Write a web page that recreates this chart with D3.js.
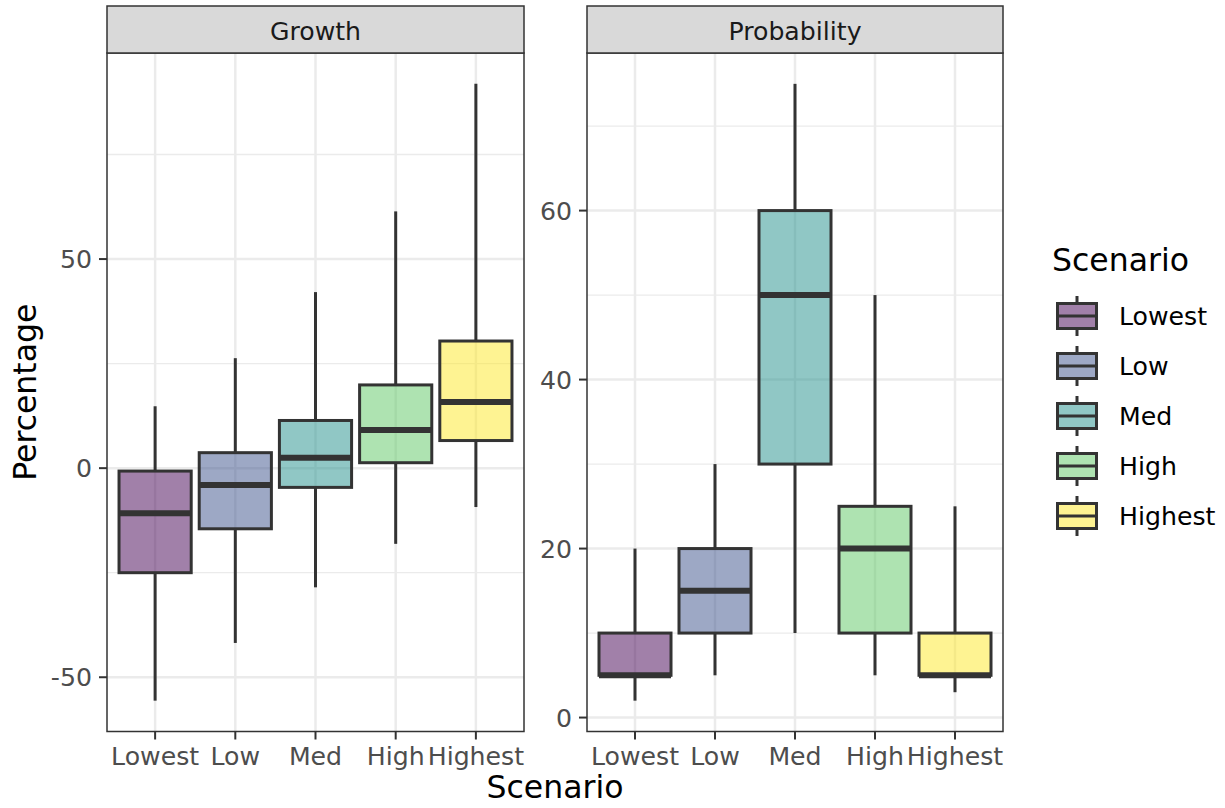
<!DOCTYPE html>
<html>
<head>
<meta charset="utf-8">
<script src="https://cdn.jsdelivr.net/npm/d3@7"></script>
<style>
  body { margin: 0; background: #fff; }
  svg { display: block; font-family: "DejaVu Sans", sans-serif; }
</style>
</head>
<body>
<svg id="chart" width="1225" height="808"></svg>
<script>
// ── DATA ─────────────────────────────────────────────
const scenarios = ["Lowest", "Low", "Med", "High", "Highest"];
const colors    = ["#440154", "#3B528B", "#21908C", "#5DC863", "#FDE725"];

// Growth facet (box stats)
const growthMin = [-55.6, -41.8, -28.5, -18.1, -9.3];
const growthQ1  = [-25.0, -14.5,  -4.6,   1.3,   6.6];
const growthMed = [-10.8,  -4.0,   2.5,   9.1,  15.8];
const growthQ3  = [ -0.7,   3.7,  11.4,  19.9,  30.4];
const growthMax = [ 14.8,  26.3,  42.1,  61.4,  91.9];

// Probability facet
const probMin = [ 2,  5, 10,  5,  3];
const probQ1  = [ 5, 10, 30, 10,  5];
const probMed = [ 5, 15, 50, 20,  5];
const probQ3  = [10, 20, 60, 25, 10];
const probMax = [20, 30, 75, 50, 25];

// tick labels
const growthTicks = [-50, 0, 50];
const growthMinor = [-25, 25, 75];
const probTicks   = [0, 20, 40, 60];
const probMinor   = [10, 30, 50, 70];

const facets = [
  { name: "Growth",      x0: 107, x1: 524,  min: growthMin, q1: growthQ1, med: growthMed, q3: growthQ3, max: growthMax, ticks: growthTicks, minor: growthMinor },
  { name: "Probability", x0: 587, x1: 1003, min: probMin,   q1: probQ1,   med: probMed,   q3: probQ3,   max: probMax,   ticks: probTicks,   minor: probMinor }
];

// ── LAYOUT ───────────────────────────────────────────
const stripTop = 6, panelTop = 53, panelBottom = 731.5;
const dark = "#333333";
const tickFont = 25.2, titleFont = 31.5;

const svg = d3.select("#chart");

facets.forEach(f => {
  const boxes = scenarios.map((s, i) => ({
    s, i, min: f.min[i], q1: f.q1[i], med: f.med[i], q3: f.q3[i], max: f.max[i], color: colors[i]
  }));

  // y scale with ggplot-style 5% expansion
  const lo = d3.min(f.min), hi = d3.max(f.max);
  const pad = (hi - lo) * 0.05;
  const y = d3.scaleLinear().domain([lo - pad, hi + pad]).range([panelBottom, panelTop]);

  const x = d3.scaleBand().domain(scenarios).range([f.x0, f.x1])
    .paddingInner(0).paddingOuter(0.1);
  const cx = d => x(d.s) + x.bandwidth() / 2;
  const bw = x.bandwidth() * 0.9;

  const g = svg.append("g");

  // panel background
  g.append("rect")
    .attr("x", f.x0).attr("y", panelTop)
    .attr("width", f.x1 - f.x0).attr("height", panelBottom - panelTop)
    .attr("fill", "#fff");

  // minor grid
  g.selectAll(".minor")
    .data(f.minor.filter(v => y(v) > panelTop && y(v) < panelBottom))
    .join("line")
      .attr("x1", f.x0).attr("x2", f.x1)
      .attr("y1", d => y(d)).attr("y2", d => y(d))
      .attr("stroke", "#ebebeb").attr("stroke-width", 1.3);

  // major grid (horizontal)
  g.selectAll(".major")
    .data(f.ticks)
    .join("line")
      .attr("x1", f.x0).attr("x2", f.x1)
      .attr("y1", d => y(d)).attr("y2", d => y(d))
      .attr("stroke", "#ebebeb").attr("stroke-width", 2.5);

  // major grid (vertical)
  g.selectAll(".vgrid")
    .data(boxes)
    .join("line")
      .attr("x1", cx).attr("x2", cx)
      .attr("y1", panelTop).attr("y2", panelBottom)
      .attr("stroke", "#ebebeb").attr("stroke-width", 2.5);

  // whiskers
  g.selectAll(".whiskerUp")
    .data(boxes)
    .join("line")
      .attr("x1", cx).attr("x2", cx)
      .attr("y1", d => y(d.q3)).attr("y2", d => y(d.max))
      .attr("stroke", dark).attr("stroke-width", 3);

  g.selectAll(".whiskerDown")
    .data(boxes)
    .join("line")
      .attr("x1", cx).attr("x2", cx)
      .attr("y1", d => y(d.q1)).attr("y2", d => y(d.min))
      .attr("stroke", dark).attr("stroke-width", 3);

  // boxes
  g.selectAll(".box")
    .data(boxes)
    .join("rect")
      .attr("x", d => cx(d) - bw / 2)
      .attr("y", d => y(d.q3))
      .attr("width", bw)
      .attr("height", d => y(d.q1) - y(d.q3))
      .attr("fill", d => d.color).attr("fill-opacity", 0.5)
      .attr("stroke", dark).attr("stroke-width", 3);

  // medians
  g.selectAll(".median")
    .data(boxes)
    .join("line")
      .attr("x1", d => cx(d) - bw / 2).attr("x2", d => cx(d) + bw / 2)
      .attr("y1", d => y(d.med)).attr("y2", d => y(d.med))
      .attr("stroke", dark).attr("stroke-width", 6);

  // panel border
  g.append("rect")
    .attr("x", f.x0).attr("y", panelTop)
    .attr("width", f.x1 - f.x0).attr("height", panelBottom - panelTop)
    .attr("fill", "none").attr("stroke", dark).attr("stroke-width", 1.5);

  // strip
  g.append("rect")
    .attr("x", f.x0).attr("y", stripTop)
    .attr("width", f.x1 - f.x0).attr("height", panelTop - stripTop)
    .attr("fill", "#d9d9d9").attr("stroke", dark).attr("stroke-width", 1.5);

  g.append("text")
    .attr("x", (f.x0 + f.x1) / 2).attr("y", (stripTop + panelTop) / 2 + 1)
    .attr("dy", "0.36em")
    .attr("text-anchor", "middle")
    .attr("font-size", tickFont).attr("fill", "#1a1a1a")
    .text(f.name);

  // y axis
  const yAxis = g.append("g");
  yAxis.selectAll("line")
    .data(f.ticks)
    .join("line")
      .attr("x1", f.x0 - 8).attr("x2", f.x0)
      .attr("y1", d => y(d)).attr("y2", d => y(d))
      .attr("stroke", dark).attr("stroke-width", 2);
  yAxis.selectAll("text")
    .data(f.ticks)
    .join("text")
      .attr("x", f.x0 - 15).attr("y", d => y(d))
      .attr("dy", "0.36em")
      .attr("text-anchor", "end")
      .attr("font-size", tickFont).attr("fill", "#4d4d4d")
      .text(d => d);

  // x axis
  const xAxis = g.append("g");
  xAxis.selectAll("line")
    .data(boxes)
    .join("line")
      .attr("x1", cx).attr("x2", cx)
      .attr("y1", panelBottom).attr("y2", panelBottom + 8)
      .attr("stroke", dark).attr("stroke-width", 2);
  xAxis.selectAll("text")
    .data(boxes)
    .join("text")
      .attr("x", cx).attr("y", 765)
      .attr("text-anchor", "middle")
      .attr("font-size", tickFont).attr("fill", "#4d4d4d")
      .text(d => d.s);
});

// ── AXIS TITLES ──────────────────────────────────────
svg.append("text")
  .attr("x", 555).attr("y", 798)
  .attr("text-anchor", "middle")
  .attr("font-size", titleFont).attr("fill", "#000")
  .text("Scenario");

svg.append("text")
  .attr("transform", `translate(36, ${(panelTop + panelBottom) / 2}) rotate(-90)`)
  .attr("text-anchor", "middle")
  .attr("font-size", titleFont).attr("fill", "#000")
  .text("Percentage");

// ── LEGEND ───────────────────────────────────────────
const legend = svg.append("g");
legend.append("text")
  .attr("x", 1052).attr("y", 271)
  .attr("font-size", titleFont).attr("fill", "#000")
  .text("Scenario");

const keyY = d3.scalePoint().domain(scenarios).range([316, 516]);
const keyX = 1077, keyW = 39, keyH = 25;

const keys = legend.selectAll(".key")
  .data(scenarios.map((s, i) => ({ s, color: colors[i] })))
  .join("g")
    .attr("transform", d => `translate(0, ${keyY(d.s)})`);

keys.append("line")
  .attr("x1", keyX).attr("x2", keyX)
  .attr("y1", -20).attr("y2", 20)
  .attr("stroke", dark).attr("stroke-width", 3);

keys.append("rect")
  .attr("x", keyX - keyW / 2).attr("y", -keyH / 2)
  .attr("width", keyW).attr("height", keyH)
  .attr("fill", "#fff");

keys.append("rect")
  .attr("x", keyX - keyW / 2).attr("y", -keyH / 2)
  .attr("width", keyW).attr("height", keyH)
  .attr("fill", d => d.color).attr("fill-opacity", 0.5)
  .attr("stroke", dark).attr("stroke-width", 3);

keys.append("line")
  .attr("x1", keyX - keyW / 2).attr("x2", keyX + keyW / 2)
  .attr("y1", 0).attr("y2", 0)
  .attr("stroke", dark).attr("stroke-width", 3);

keys.append("text")
  .attr("x", 1119).attr("y", 0)
  .attr("dy", "0.36em")
  .attr("font-size", tickFont).attr("fill", "#000")
  .text(d => d.s);
</script>
</body>
</html>
